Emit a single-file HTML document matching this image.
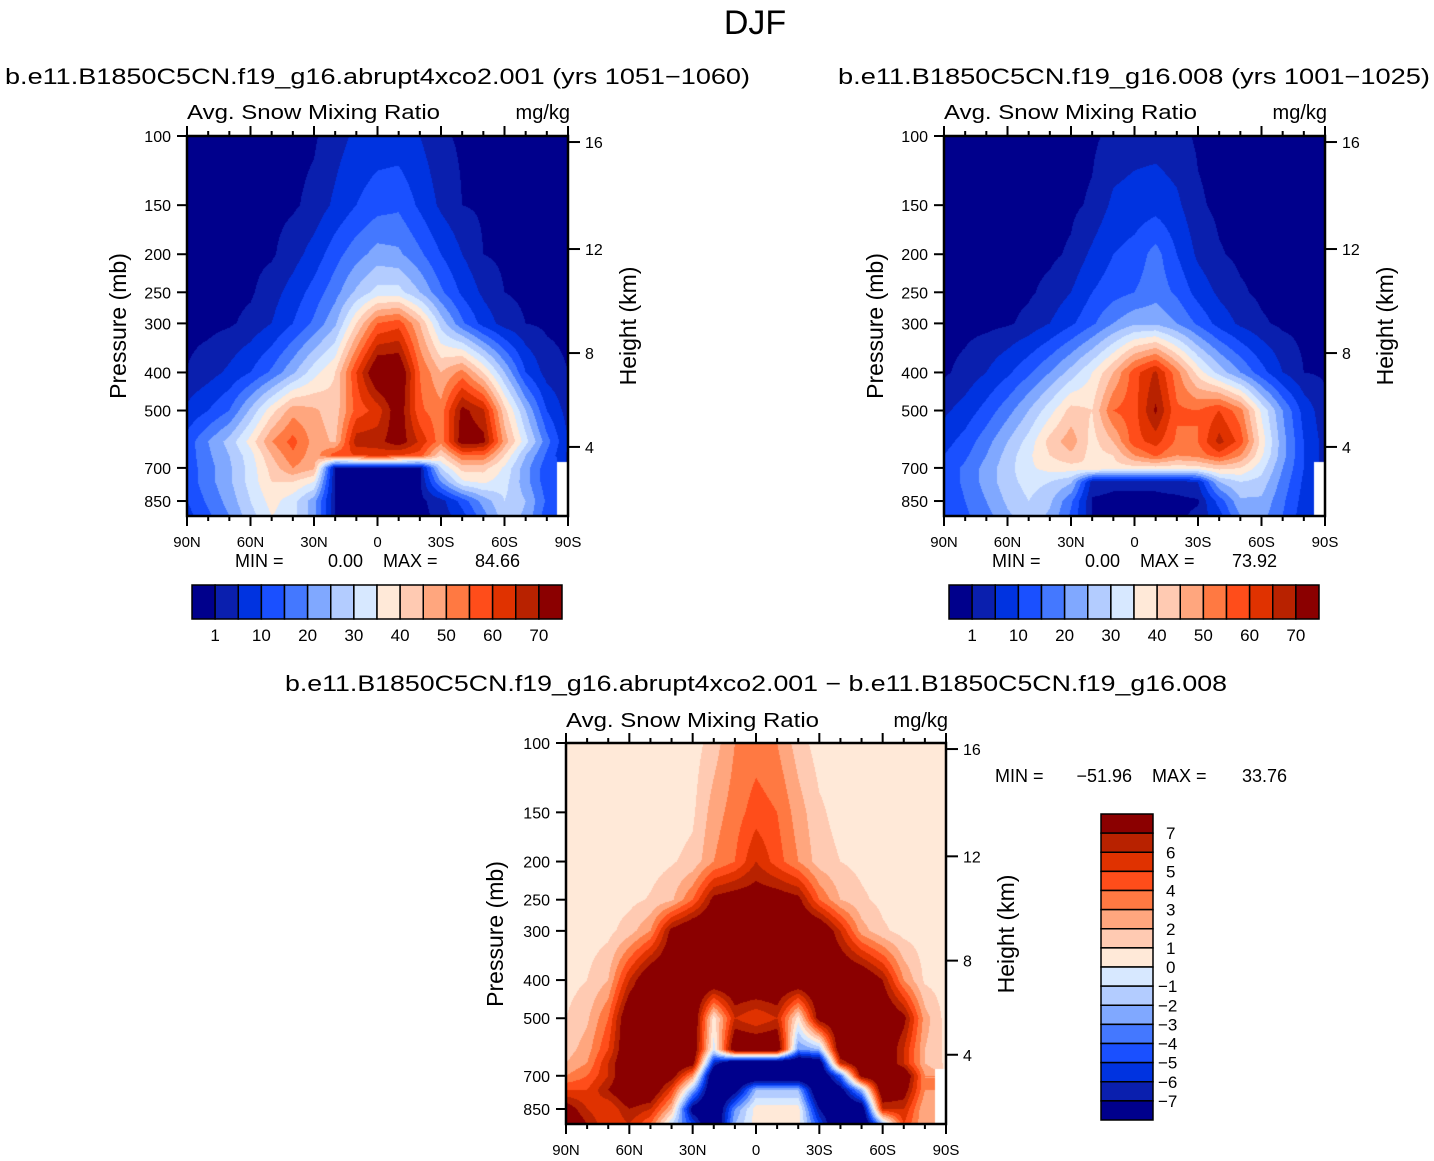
<!DOCTYPE html>
<html><head><meta charset="utf-8"><style>
html,body{margin:0;padding:0;background:#fff;}
#wrap{position:relative;width:1434px;height:1161px;overflow:hidden;font-family:"Liberation Sans",sans-serif;}
canvas{position:absolute;}
svg{position:absolute;left:0;top:0;}
text{font-family:"Liberation Sans",sans-serif;fill:#000;}
</style></head><body>
<div id="wrap">
<canvas id="c1" style="left:187px;top:136px" width="381" height="380"></canvas>
<canvas id="c2" style="left:944px;top:136px" width="381" height="380"></canvas>
<canvas id="c3" style="left:566px;top:743px" width="380" height="381"></canvas>
<svg id="svg" width="1434" height="1161">
<text x="755" y="34" font-size="34" text-anchor="middle">DJF</text>
<text x="5" y="84" font-size="22" textLength="745" lengthAdjust="spacingAndGlyphs">b.e11.B1850C5CN.f19_g16.abrupt4xco2.001 (yrs 1051−1060)</text>
<text x="838" y="84" font-size="22" textLength="592" lengthAdjust="spacingAndGlyphs">b.e11.B1850C5CN.f19_g16.008 (yrs 1001−1025)</text>
<text x="285" y="691" font-size="22" textLength="942" lengthAdjust="spacingAndGlyphs">b.e11.B1850C5CN.f19_g16.abrupt4xco2.001 − b.e11.B1850C5CN.f19_g16.008</text>

<text x="187" y="119" font-size="20" textLength="253" lengthAdjust="spacingAndGlyphs">Avg. Snow Mixing Ratio</text>
<text x="570" y="119" font-size="20" text-anchor="end">mg/kg</text>
<text x="944" y="119" font-size="20" textLength="253" lengthAdjust="spacingAndGlyphs">Avg. Snow Mixing Ratio</text>
<text x="1327" y="119" font-size="20" text-anchor="end">mg/kg</text>
<text x="566" y="727" font-size="20" textLength="253" lengthAdjust="spacingAndGlyphs">Avg. Snow Mixing Ratio</text>
<text x="948" y="727" font-size="20" text-anchor="end">mg/kg</text>

<text transform="translate(126,326) rotate(-90)" font-size="23" text-anchor="middle">Pressure (mb)</text>
<text transform="translate(636,326) rotate(-90)" font-size="23" text-anchor="middle">Height (km)</text>
<text transform="translate(883,326) rotate(-90)" font-size="23" text-anchor="middle">Pressure (mb)</text>
<text transform="translate(1393,326) rotate(-90)" font-size="23" text-anchor="middle">Height (km)</text>
<text transform="translate(503,934) rotate(-90)" font-size="23" text-anchor="middle">Pressure (mb)</text>
<text transform="translate(1014,934) rotate(-90)" font-size="23" text-anchor="middle">Height (km)</text>

<g font-size="18">
<text x="235" y="567">MIN =</text><text x="363" y="567" text-anchor="end">0.00</text>
<text x="383" y="567">MAX =</text><text x="520" y="567" text-anchor="end">84.66</text></g>
<g font-size="18">
<text x="992" y="567">MIN =</text><text x="1120" y="567" text-anchor="end">0.00</text>
<text x="1140" y="567">MAX =</text><text x="1277" y="567" text-anchor="end">73.92</text></g>
<g font-size="18">
<text x="995" y="782">MIN =</text><text x="1132" y="782" text-anchor="end">−51.96</text>
<text x="1152" y="782">MAX =</text><text x="1287" y="782" text-anchor="end">33.76</text></g>
</svg>
</div>
<script>
// ---- data ----
const lats = [90,80,70,60,50,40,30,20,10,0,-10,-20,-30,-40,-50,-60,-70,-80,-90];
const pressureLevels = [100,150,200,250,300,400,500,600,650,700,760,850,928];
const field1 = [
[0,0,0,0,0,0,0.5,3,6,7,7,5,1.5,0.5,0,0,0,0,0],
[0,0,0,0,0,0.5,2,6,10,13,14,9,4,1,0.5,0,0,0,0],
[0,0,0,0,0.5,3,7,13,18,22,21,16,10,5,1,0.3,0,0,0],
[0,0,0,0.5,3,7,12,18,26,32,32,25,16,9,4,1,0.3,0,0],
[0,0,0.5,2,5,10,16,24,40,55,58,45,28,16,8,3,1,0.3,0],
[1.1,3,6,10,16,24,33,40,60,78,78,55,45,52,40,25,10,3,1],
[6,10,15,26,38,48,46,42,57,62,75,56,52,72,66,42,25,10,3],
[12,20,27,37,50,57,48,44,68,68,74,64,52,74,72,48,32,17,5],
[12,19,25,33,45,54,47,58,60,62,60,58,40,55,55,40,25,14,4],
[12,18,24,32,42,50,46,0,0,0,0,0,30,42,42,34,22,12,null],
[12,18,24,32,40,40,35,0,0,0,0,0,20,34,36,32,22,12,null],
[10,16,22,30,37,32,22,0.5,0,0,0,0,3,12,22,30,25,14,null],
[8,14,20,28,35,32,22,0.5,0,0,0,0,2,8,18,28,24,12,null]];
const field2 = [
[0,0,0,0,0,0,0,0.3,2,3,3,2,0.5,0,0,0,0,0,0],
[0,0,0,0,0,0,0.3,1.5,6,7,8,6,1.5,0.3,0,0,0,0,0],
[0,0,0,0,0,0.3,1.5,6,10,12,17,10,4,1.3,0.3,0,0,0,0],
[0,0,0,0,0.5,2,5,10,13,15,18,14,8,4,1.5,0.3,0,0,0],
[0,0,0,0.5,2,5,9,14,20,24,24,20,14,8,4,1.5,0.3,0,0],
[0.5,2,5,9,14,20,27,35,45,58,66,52,38,28,20,12,5,1,0.5],
[4,7,12,18,25,33,42,40,55,58,71,56,55,60,52,34,20,8,2],
[8,12,18,25,32,42,48,38,45,58,62,54,55,67,58,38,22,10,3],
[10,14,20,27,34,40,44,38,40,50,56,50,52,58,50,36,22,10,3],
[12,16,22,28,34,37,38,40,38,38,38,37,38,42,40,32,20,10,null],
[12,16,22,28,32,30,26,3,2,2,2,3,5,25,30,28,18,9,null],
[11,15,20,26,30,26,16,0.5,0,0,0,0,0.5,12,24,24,16,8,null],
[10,14,18,24,28,24,14,1,0,0,0,0,2,8,20,22,15,7,null]];
const fieldDiff = [
[.5,.5,.5,.5,.5,.5,.5,1.5,3,3.5,3,1.5,.5,.5,.5,.5,.5,.5,.5],
[.5,.5,.5,.5,.5,.5,.8,2.5,3.5,4.5,4,2.5,1.2,.6,.5,.5,.5,.5,.5],
[.5,.5,.5,.5,.6,.9,1.3,3,4,6,4.5,3,1.5,1,.7,.5,.5,.5,.5],
[.5,.5,.5,.7,1.1,1.8,4,7.5,8,8,8,7.5,4,2,1.2,.7,.5,.5,.5],
[.5,.5,.7,1.5,3,7.5,9,9,9,9,9,9,9,6,2.5,1.2,.6,.5,.5],
[.6,1,2,6,9,9,9,9,9,9,9,9,9,9,9,7,3,.8,.5],
[1,1.8,4,9,9,9,9,0.5,6,5,6,0.5,8,9,9,9,7.5,2.5,.6],
[1.5,2.5,5,9,9,9,9,-0.5,9,9,9,-3,-2,9,9,9,6,2,.8],
[2,3,6,9,9,9,8,-6,-10,-10,-10,-10,-9,6,9,9,6,2,.8],
[3,4,6,9,9,8,3,-10,-10,-10,-10,-10,-10,-4,8,9,9,3,null],
[5,5,7,9,9,5,-2,-10,-8,-2,-2,-2,-10,-8,-2,9,8,3,null],
[8,6,5,7,6,2,-8,-10,-3,.5,.5,.5,-7,-10,-9,6,6,2,null],
[9,7,5,6,4,-1,-5,-10,-2,.5,.5,.5,-5,-10,-10,-2,5,2,null]];
const levels1 = [1,5,10,15,20,25,30,35,40,45,50,55,60,65,70];
const levels1Labels = ["1","10","20","30","40","50","60","70"];
const levelsDiff = [-7,-6,-5,-4,-3,-2,-1,0,1,2,3,4,5,6,7];
const palette = ["#00008c","#0a1fae","#0033e0","#1a50ff","#4478ff","#80a8ff","#b3ccff","#d7e8ff","#ffe9d8","#ffcab2","#ffa67e","#ff7942","#ff4d1a","#e03200","#b82200","#8b0000"];
const latTicks = [90,60,30,0,-30,-60,-90];
const latTickLabels = ["90N","60N","30N","0","30S","60S","90S"];
const pressureTicks = [100,150,200,250,300,400,500,700,850];
const heightTicks = [16,12,8,4];
const heightTickPressure = [103.6,194,357,619];
const P_BOTTOM = 928;

function hexRgb(h){return [parseInt(h.substr(1,2),16),parseInt(h.substr(3,2),16),parseInt(h.substr(5,2),16)];}
const rgbPal = palette.map(hexRgb);
function levelIndex(v, lv){let k=0;for(let i=0;i<lv.length;i++){if(v>=lv[i])k=i+1;}return k;}

function drawField(id, data, lv){
  const cv=document.getElementById(id), ctx=cv.getContext('2d');
  const W=cv.width,H=cv.height, img=ctx.createImageData(W,H);
  const lnP=pressureLevels.map(p=>Math.log(p));
  const nC=lats.length-1;
  for(let py=0;py<H;py++){
    const lp=Math.log(100)+(py+0.5)/H*Math.log(P_BOTTOM/100);
    let r=0; while(r<lnP.length-2 && lp>lnP[r+1]) r++;
    let t=(lp-lnP[r])/(lnP[r+1]-lnP[r]); t=Math.max(0,Math.min(1,t));
    for(let px=0;px<W;px++){
      const xf=(px+0.5)/W*nC;
      let c=Math.min(nC-1,Math.floor(xf)); const u=xf-c;
      const a=data[r][c],b=data[r][c+1],d=data[r+1][c],e=data[r+1][c+1];
      const near=data[t<0.5?r:r+1][u<0.5?c:c+1];
      const o=(py*W+px)*4;
      if(near===null){img.data[o]=255;img.data[o+1]=255;img.data[o+2]=255;img.data[o+3]=255;continue;}
      const f=x=>x===null?near:x;
      const v=(1-t)*((1-u)*f(a)+u*f(b))+t*((1-u)*f(d)+u*f(e));
      const col=rgbPal[levelIndex(v,lv)];
      img.data[o]=col[0];img.data[o+1]=col[1];img.data[o+2]=col[2];img.data[o+3]=255;
    }
  }
  ctx.putImageData(img,0,0);
}
drawField('c1',field1,levels1);
drawField('c2',field2,levels1);
drawField('c3',fieldDiff,levelsDiff);

const svg=document.getElementById('svg');
const NS='http://www.w3.org/2000/svg';
function mk(tag,attrs,parent){const el=document.createElementNS(NS,tag);for(const k in attrs)el.setAttribute(k,attrs[k]);(parent||svg).appendChild(el);return el;}

function axes(prefix,x0,y0,W,H){
  const xS=lat=>x0+(90-lat)/180*W;
  const yS=p=>y0+Math.log(p/100)/Math.log(P_BOTTOM/100)*H;
  const g=mk('g',{});
  
  
  for(let lat=90;lat>=-90;lat-=10){
    const major=lat%30===0, len=major?10:5, x=xS(lat);
    const tb=mk('line',{x1:x,x2:x,y1:y0+H,y2:y0+H+len,stroke:'#000','stroke-width':2},g);
    
    
    const tt=mk('line',{x1:x,x2:x,y1:y0,y2:y0-len,stroke:'#000','stroke-width':2},g);
    
    
  }
  latTicks.forEach((lat,i)=>{
    const t=mk('text',{x:xS(lat),y:y0+H+31,'font-size':15,'text-anchor':'middle'},g);
    t.textContent=latTickLabels[i];
    
    
  });
  pressureTicks.forEach(p=>{
    const y=yS(p);
    const l=mk('line',{x1:x0-10,x2:x0,y1:y,y2:y,stroke:'#000','stroke-width':2},g);
    
    
    const t=mk('text',{x:x0-16,y:y+6,'font-size':16,'text-anchor':'end'},g);
    t.textContent=p;
    
    
  });
  heightTicks.forEach((km,i)=>{
    const y=yS(heightTickPressure[i]);
    const l=mk('line',{x1:x0+W,x2:x0+W+12,y1:y,y2:y,stroke:'#000','stroke-width':2},g);
    
    
    const t=mk('text',{x:x0+W+17,y:y+6,'font-size':16},g);
    t.textContent=km;
    
    
  });
  const fr=mk('rect',{x:x0,y:y0,width:W,height:H,fill:'none',stroke:'#000','stroke-width':2.5},g);
  
  
}
axes('panel1',187,136,381,380);
axes('panel2',944,136,381,380);
axes('diff',566,743,380,381);

function hbar(prefix,x0,y0,W,H){
  const n=palette.length,bw=W/n;
  const g=mk('g',{});
  
  
  palette.forEach((c,i)=>{
    const r=mk('rect',{x:x0+i*bw,y:y0,width:bw,height:H,fill:c,stroke:'#000','stroke-width':1.5},g);
    
    
  });
  levels1Labels.forEach((lab,j)=>{
    const t=mk('text',{x:x0+(2*j+1)*bw,y:y0+H+22,'font-size':17,'text-anchor':'middle'},g);
    t.textContent=lab;
    
    
  });
}
hbar('panel1',192,585,370,34);
hbar('panel2',949,585,370,34);

(function(){
  const x0=1101,y0=814,W=52,H=306,n=palette.length,bh=H/n;
  const g=mk('g',{});
  
  
  for(let k=0;k<n;k++){
    const r=mk('rect',{x:x0,y:y0+k*bh,width:W,height:bh,fill:palette[n-1-k],stroke:'#000','stroke-width':1.5},g);
    
    
  }
  for(let k=0;k<n-1;k++){
    const v=levelsDiff[n-2-k];
    const t=mk('text',{x:v<0?1158:1166,y:y0+(k+1)*bh+6,'font-size':17},g);
    t.textContent=v<0?('−'+(-v)):String(v);
    
    
  }
})();
</script>
</body></html>
